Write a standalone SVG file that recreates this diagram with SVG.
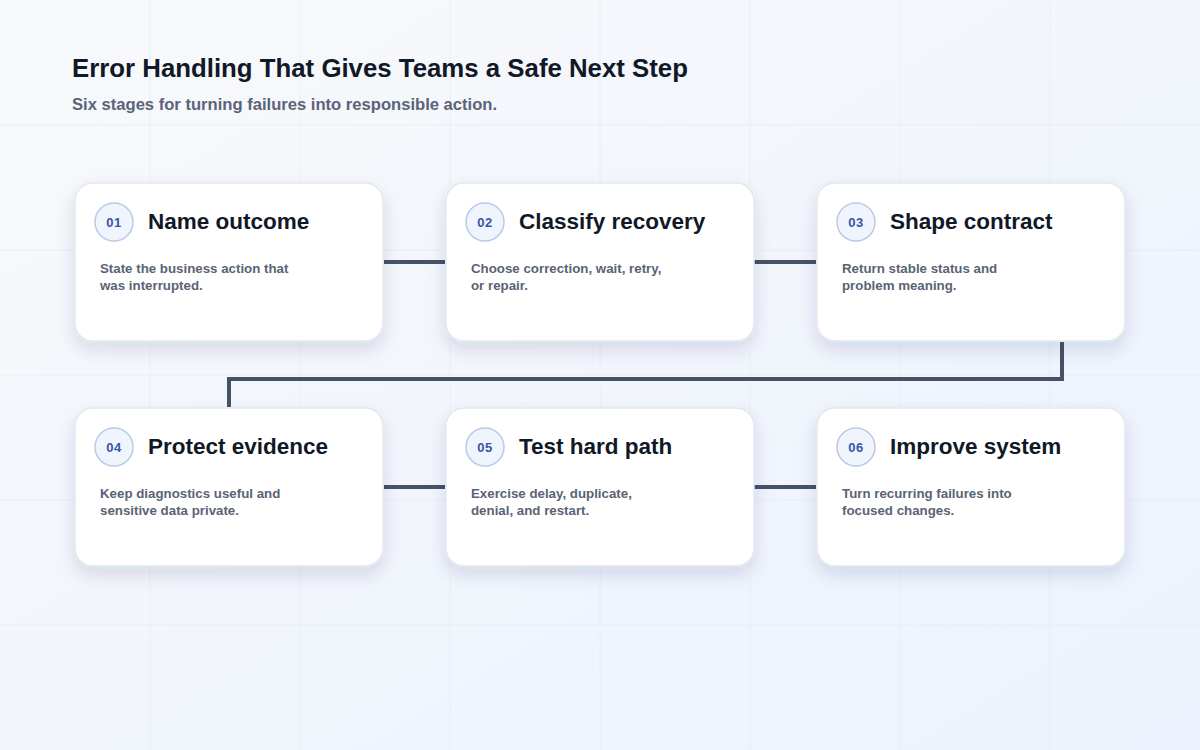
<svg xmlns="http://www.w3.org/2000/svg" width="1200" height="750" viewBox="0 0 1200 750">
<defs>
<linearGradient id="bg" x1="0" y1="0" x2="1" y2="1">
<stop offset="0" stop-color="#f8f9fb"/>
<stop offset="1" stop-color="#ecf2fd"/>
</linearGradient>
<filter id="sh" x="-20%" y="-20%" width="140%" height="160%">
<feGaussianBlur in="SourceAlpha" stdDeviation="9"/>
<feOffset dy="8" result="b"/>
<feFlood flood-color="#1e2a5a" flood-opacity="0.13"/>
<feComposite in2="b" operator="in"/>
<feMerge><feMergeNode/><feMergeNode in="SourceGraphic"/></feMerge>
</filter>
<style>
.card{fill:#ffffff;stroke:#e3e7ef;stroke-width:1.5;filter:url(#sh)}
.badge{fill:#eff4fd;stroke:#b9c9e8;stroke-width:1.5}
.num{font-family:"Liberation Sans",Arial,sans-serif;font-size:13px;font-weight:700;fill:#3a55a5;text-anchor:middle;letter-spacing:0.5px}
.title{font-family:"Liberation Sans",Arial,sans-serif;font-size:22.5px;font-weight:700;fill:#111827}
.body{font-family:"Liberation Sans",Arial,sans-serif;font-size:13.3px;font-weight:700;fill:#5a6374}
.conn{fill:none;stroke:#465366;stroke-width:4}
.grid{stroke:#e3e8f1;stroke-width:1;opacity:0.6}
</style>
</defs>
<rect width="1200" height="750" fill="url(#bg)"/>
<g class="grid">
<line x1="150" y1="0" x2="150" y2="750"/>
<line x1="300" y1="0" x2="300" y2="750"/>
<line x1="450" y1="0" x2="450" y2="750"/>
<line x1="600" y1="0" x2="600" y2="750"/>
<line x1="750" y1="0" x2="750" y2="750"/>
<line x1="900" y1="0" x2="900" y2="750"/>
<line x1="1050" y1="0" x2="1050" y2="750"/>
<line x1="0" y1="125" x2="1200" y2="125"/>
<line x1="0" y1="250" x2="1200" y2="250"/>
<line x1="0" y1="375" x2="1200" y2="375"/>
<line x1="0" y1="500" x2="1200" y2="500"/>
<line x1="0" y1="625" x2="1200" y2="625"/>
</g>
<text x="72" y="77" font-family="'Liberation Sans',Arial,sans-serif" font-size="25.8" font-weight="700" fill="#111827">Error Handling That Gives Teams a Safe Next Step</text>
<text x="72" y="110" font-family="'Liberation Sans',Arial,sans-serif" font-size="16.6" font-weight="700" fill="#5a6478">Six stages for turning failures into responsible action.</text>
<g id="connectors">
<line class="conn" x1="384" y1="262" x2="445" y2="262"/>
<line class="conn" x1="754" y1="262" x2="816" y2="262"/>
<path class="conn" d="M1062 342 V379 H229 V407"/>
<line class="conn" x1="384" y1="487" x2="445" y2="487"/>
<line class="conn" x1="754" y1="487" x2="816" y2="487"/>
</g>
<g id="node1">
<rect class="card" x="75" y="183" width="308" height="158" rx="18"/>
<circle class="badge" cx="114" cy="222" r="19"/>
<text class="num" x="114" y="227">01</text>
<text class="title" x="148" y="229">Name outcome</text>
<text class="body" x="100" y="273">State the business action that</text>
<text class="body" x="100" y="290">was interrupted.</text>
</g>
<g id="node2">
<rect class="card" x="446" y="183" width="308" height="158" rx="18"/>
<circle class="badge" cx="485" cy="222" r="19"/>
<text class="num" x="485" y="227">02</text>
<text class="title" x="519" y="229">Classify recovery</text>
<text class="body" x="471" y="273">Choose correction, wait, retry,</text>
<text class="body" x="471" y="290">or repair.</text>
</g>
<g id="node3">
<rect class="card" x="817" y="183" width="308" height="158" rx="18"/>
<circle class="badge" cx="856" cy="222" r="19"/>
<text class="num" x="856" y="227">03</text>
<text class="title" x="890" y="229">Shape contract</text>
<text class="body" x="842" y="273">Return stable status and</text>
<text class="body" x="842" y="290">problem meaning.</text>
</g>
<g id="node4">
<rect class="card" x="75" y="408" width="308" height="158" rx="18"/>
<circle class="badge" cx="114" cy="447" r="19"/>
<text class="num" x="114" y="452">04</text>
<text class="title" x="148" y="454">Protect evidence</text>
<text class="body" x="100" y="498">Keep diagnostics useful and</text>
<text class="body" x="100" y="515">sensitive data private.</text>
</g>
<g id="node5">
<rect class="card" x="446" y="408" width="308" height="158" rx="18"/>
<circle class="badge" cx="485" cy="447" r="19"/>
<text class="num" x="485" y="452">05</text>
<text class="title" x="519" y="454">Test hard path</text>
<text class="body" x="471" y="498">Exercise delay, duplicate,</text>
<text class="body" x="471" y="515">denial, and restart.</text>
</g>
<g id="node6">
<rect class="card" x="817" y="408" width="308" height="158" rx="18"/>
<circle class="badge" cx="856" cy="447" r="19"/>
<text class="num" x="856" y="452">06</text>
<text class="title" x="890" y="454">Improve system</text>
<text class="body" x="842" y="498">Turn recurring failures into</text>
<text class="body" x="842" y="515">focused changes.</text>
</g>
</svg>
